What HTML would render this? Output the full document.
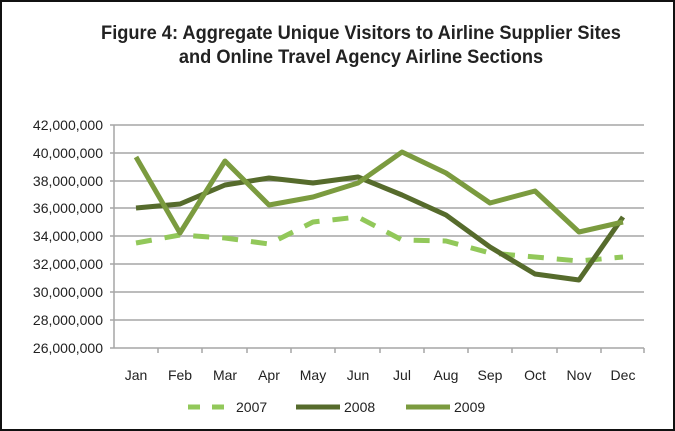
<!DOCTYPE html>
<html><head><style>
html,body{margin:0;padding:0;background:#fff}
.box{position:absolute;left:0;top:0;width:671px;height:427px;border:2px solid #111;background:#fff}
</style></head><body>
<div class="box"></div>
<svg width="675" height="431" style="position:absolute;left:0;top:0" font-family="'Liberation Sans',sans-serif">
<text x="361" y="39" text-anchor="middle" font-family="'Liberation Sans Narrow','Liberation Sans',sans-serif" font-size="19" font-weight="bold" fill="#222" transform="translate(361 0) scale(0.96 1) translate(-361 0)">Figure 4: Aggregate Unique Visitors to Airline Supplier Sites</text>
<text x="361" y="63" text-anchor="middle" font-family="'Liberation Sans Narrow','Liberation Sans',sans-serif" font-size="19" font-weight="bold" fill="#222" transform="translate(361 0) scale(0.96 1) translate(-361 0)">and Online Travel Agency Airline Sections</text>
<g stroke="#a6a6a6" stroke-width="1.5">
<line x1="110" y1="125" x2="644" y2="125"/><line x1="110" y1="153" x2="644" y2="153"/>
<line x1="110" y1="181" x2="644" y2="181"/><line x1="110" y1="208" x2="644" y2="208"/>
<line x1="110" y1="236" x2="644" y2="236"/><line x1="110" y1="264" x2="644" y2="264"/>
<line x1="110" y1="292" x2="644" y2="292"/><line x1="110" y1="320" x2="644" y2="320"/>
<line x1="110" y1="348" x2="644" y2="348"/>
<line x1="114" y1="125" x2="114" y2="348"/>
</g>
<g stroke="#a6a6a6" stroke-width="1.5">
<line x1="158" y1="348" x2="158" y2="353"/><line x1="202" y1="348" x2="202" y2="353"/><line x1="247" y1="348" x2="247" y2="353"/><line x1="291" y1="348" x2="291" y2="353"/><line x1="335" y1="348" x2="335" y2="353"/><line x1="380" y1="348" x2="380" y2="353"/><line x1="424" y1="348" x2="424" y2="353"/><line x1="468" y1="348" x2="468" y2="353"/><line x1="512" y1="348" x2="512" y2="353"/><line x1="557" y1="348" x2="557" y2="353"/><line x1="601" y1="348" x2="601" y2="353"/><line x1="644" y1="348" x2="644" y2="353"/>
</g>
<g font-size="14" fill="#222" text-anchor="end">
<text x="103" y="130">42,000,000</text><text x="103" y="158">40,000,000</text>
<text x="103" y="186">38,000,000</text><text x="103" y="213">36,000,000</text>
<text x="103" y="241">34,000,000</text><text x="103" y="269">32,000,000</text>
<text x="103" y="297">30,000,000</text><text x="103" y="325">28,000,000</text>
<text x="103" y="353">26,000,000</text>
</g>
<g font-size="14" fill="#222" text-anchor="middle">
<text x="136" y="380">Jan</text><text x="180" y="380">Feb</text><text x="225" y="380">Mar</text><text x="269" y="380">Apr</text><text x="313" y="380">May</text><text x="358" y="380">Jun</text><text x="402" y="380">Jul</text><text x="446" y="380">Aug</text><text x="490" y="380">Sep</text><text x="535" y="380">Oct</text><text x="579" y="380">Nov</text><text x="623" y="380">Dec</text>
</g>
<g fill="none" stroke-width="5" stroke-linejoin="round" stroke-linecap="butt">
<polyline stroke="#92c85a" stroke-dasharray="16,13" points="136,243 180,235 225,238 269,244 313,222 358,217 402,240 446,241 490,253 535,257 579,261 623,257"/>
<polyline stroke="#566b2c" points="136,208 180,204 225,185 269,178 313,183 358,177 402,195 446,215 490,247 535,274 579,280 623,217"/>
<polyline stroke="#7b9b3f" points="136,157 180,233 225,161 269,205 313,197 358,183 402,152 446,173 490,203 535,191 579,232 623,222"/>
</g>
<g stroke-width="5">
<line x1="188" y1="407" x2="200" y2="407" stroke="#92c85a"/><line x1="212" y1="407" x2="224" y2="407" stroke="#92c85a"/>
<line x1="296" y1="407" x2="340" y2="407" stroke="#566b2c"/>
<line x1="406" y1="407" x2="450" y2="407" stroke="#7b9b3f"/>
</g>
<g font-size="14" fill="#222">
<text x="236" y="412">2007</text><text x="344" y="412">2008</text><text x="454" y="412">2009</text>
</g>
</svg>
</body></html>
